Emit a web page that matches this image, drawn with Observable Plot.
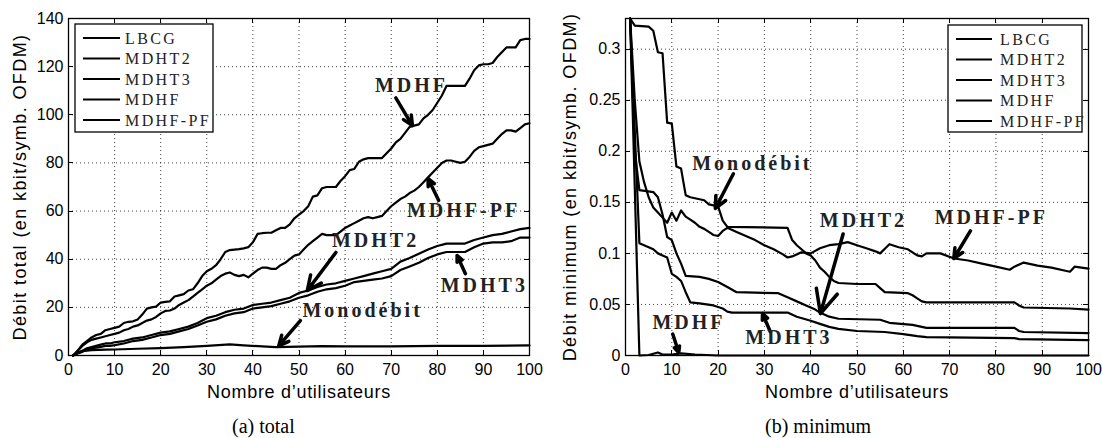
<!DOCTYPE html>
<html><head><meta charset="utf-8">
<script src="https://cdn.jsdelivr.net/npm/d3@7"></script>
<script src="https://cdn.jsdelivr.net/npm/@observablehq/plot@0.6"></script>
<style>
body{margin:0;background:#fff;}
#wrap{position:relative;width:1102px;height:438px;overflow:hidden;background:#fff}
#left,#right{position:absolute;top:0}
#left{left:0} #right{left:551px}
.cap{position:absolute;font-family:"Liberation Serif",serif;font-size:20px;color:#000;top:416px;white-space:nowrap;line-height:20px}
g[aria-label="x-axis label"]{font-size:18px;letter-spacing:0.7px}
g[aria-label="y-axis label"]{font-size:18px;letter-spacing:1.4px}
g[aria-label="text"]{letter-spacing:3px}
</style></head><body>
<div id="wrap"><div id="left"></div><div id="right"></div>
<div class="cap" id="capA" style="left:232px"></div><div class="cap" id="capB" style="left:765px"></div></div>
<script>
// ---------- data ----------
const seriesNames = ["LBCG", "MDHT2", "MDHT3", "MDHF", "MDHF-PF"];
const xTicks = [0,10,20,30,40,50,60,70,80,90,100];
const yTicksTotal = [0,20,40,60,80,100,120,140];
const yTicksMin = [0,0.05,0.1,0.15,0.2,0.25,0.3];
const yLabelsMin = ["0","0.05","0.1","0.15","0.2","0.25","0.3"];
const xLabel = "Nombre d’utilisateurs";
const yLabelTotal = "Débit total (en kbit/symb. OFDM)";
const yLabelMin = "Débit minimum (en kbit/symb. OFDM)";
const captions = ["(a) total", "(b) minimum"];

// (a) total throughput
const totMDHF_x = [1,2,3,4,5,6,7,8,9,10,11,12,13,14,15,16,17,18,19,20,21,22,23,24,25,26,27,28,29,30,31,32,33,34,35,36,37,38,39,40,41,42,43,44,45,46,47,48,49,50,51,52,53,54,55,56,57,58,59,60,61,62,63,64,65,66,67,68,69,70,71,72,73,74,75,76,77,78,79,80,81,82,83,84,85,86,87,88,89,90,91,92,93,94,95,96,97,98,99,100];
const totMDHF_y = [0,2,4.5,6,7.5,8.5,9,10.5,11,11.5,12,13.5,14,14.2,15,17,19.5,20,20.3,22,22.3,22.5,24.5,25,25.5,27,27.5,30,33,35,36,37.5,40,43,43.8,44,44.2,44.5,45,47,50.5,50.8,51,51,52,53,53,54.5,57,58.5,60,62,66,66.5,69.5,70,70,70,72.5,74.5,77,77.5,80.5,81.5,82,82,82,82,84,86,88.5,90,92.5,95,95.5,96,98.5,100,102,105,108,112,112,112,112,112,115,118.5,120.5,121,121,121.5,124,126,128,128,128,131,131.5,131.5];
const totPF_x = totMDHF_x;
const totPF_y = [0,2,4,5.5,6.5,7,7.5,8,8.5,9,9.5,10.5,11,12,12.5,13.5,14.5,15,16,17.5,18.5,18.7,19.5,21,22,23,24.5,26,27.5,29,30,31.5,33,34,34.5,33.5,33,33.5,32.5,34,35.5,36.5,36.5,36,36,37.5,38.5,40,41.5,42,44,46,47.5,49,50.5,50,50,50,51.5,53,54,55,56,57,57.5,57,57.5,58,60,62,63.5,65,66,67.5,68.5,70,72,74,76,78,80,81,81,80.5,80,80.5,82.5,85,86.5,87,87.5,88,90,92,93.5,93.5,93,94.5,96,96.5];
const totMDHT2_x = [1,2,3,4,5,6,7,8,9,10,12,14,16,18,20,22,24,26,28,30,32,34,36,38,40,42,44,46,48,50,52,54,56,58,60,62,64,66,68,70,72,74,76,78,80,82,84,86,88,90,92,94,96,98,100];
const totMDHT2_y = [0,1,2,3,3.5,4,4.5,5,5,5.5,6,7,7.5,8.5,9.5,10,11,12,13.5,15.5,16.5,18,19,19.5,21,21.5,22,23,24,26,27,28.5,29.5,30,31,32,33,34,35,36,39,40.5,42.3,44,45.5,46.5,46.5,46.5,48,49,50,50.5,51.5,52.5,53];
const totMDHT3_x = totMDHT2_x;
const totMDHT3_y = [0,0.8,1.5,2.5,3,3.3,3.6,4,4,4.3,5,6,6.5,7.5,8.5,9,10,11,12.5,14,15,16.5,17.5,18,19.5,20,20.5,21.5,22.5,24,25,26.5,27.5,28,29,30.5,31,31.5,32,33,35.5,37,38.5,40.5,42,43,43,43,45,46.5,47,47,47.5,49,49];
const totLBCG_x = [1,2,3,5,8,10,15,20,25,30,35,38,42,45,50,55,60,70,80,90,100];
const totLBCG_y = [0,1.2,1.8,2.2,2.4,2.5,2.8,3.1,3.5,4.0,4.6,4.2,3.8,3.5,3.7,3.9,3.8,3.8,4.0,4.0,4.2];

// (b) minimum throughput
const minLBCG_x = [1,2,5,6,7,8,9,10,11,12,13,14,16,17,18,19,20,21,22,35,36,37,38,39,40,41,42,43,44,45,46,50,54,55,56,61,62,63,64,65,84,85,86,96,100];
const minLBCG_y = [0.33,0.323,0.322,0.318,0.297,0.296,0.228,0.227,0.185,0.183,0.157,0.155,0.153,0.152,0.148,0.147,0.146,0.132,0.126,0.125,0.113,0.108,0.104,0.1,0.098,0.093,0.086,0.082,0.077,0.073,0.071,0.07,0.07,0.066,0.062,0.061,0.059,0.056,0.053,0.052,0.052,0.049,0.047,0.046,0.045];
const minPF_x = [1,2,3,4,5,6,7,8,9,10,11,12,13,14,15,16,17,18,19,20,21,22,24,26,28,30,32,34,35,36,38,40,42,44,46,48,50,52,54,55,57,59,61,63,64,65,68,71,74,77,80,83,84,86,89,92,95,96,97,100];
const minPF_y = [0.33,0.25,0.19,0.17,0.155,0.145,0.14,0.135,0.13,0.14,0.132,0.142,0.136,0.133,0.13,0.126,0.124,0.121,0.118,0.117,0.122,0.125,0.121,0.117,0.113,0.108,0.104,0.099,0.096,0.097,0.101,0.1,0.105,0.108,0.109,0.111,0.108,0.105,0.102,0.1,0.109,0.106,0.104,0.098,0.097,0.1,0.1,0.095,0.093,0.09,0.087,0.084,0.087,0.091,0.088,0.086,0.083,0.082,0.087,0.085];
const minMDHT2_x = [1,2,3,6,7,8,9,10,11,12,13,16,18,20,22,24,33,35,37,39,41,42,44,46,55,57,62,64,65,84,85,86,100];
const minMDHT2_y = [0.33,0.2,0.162,0.16,0.155,0.138,0.116,0.113,0.1,0.09,0.078,0.077,0.075,0.072,0.067,0.062,0.061,0.057,0.053,0.049,0.045,0.042,0.038,0.036,0.035,0.032,0.03,0.028,0.027,0.027,0.024,0.023,0.022];
const minMDHT3_x = [1,2,3,5,6,7,8,9,10,11,12,13,14,16,19,21,22,23,35,37,40,42,44,46,50,56,60,63,65,84,85,100];
const minMDHT3_y = [0.33,0.22,0.11,0.106,0.104,0.1,0.098,0.096,0.08,0.077,0.073,0.062,0.052,0.051,0.049,0.046,0.043,0.042,0.042,0.038,0.034,0.031,0.028,0.026,0.024,0.023,0.021,0.019,0.018,0.017,0.016,0.015];
const minMDHF_x = [1,2,3,5,7,8,10,12,15,20,100];
const minMDHF_y = [0.33,0.165,0,0.0005,0.003,0.001,0.0008,0.002,0.001,0,0];

// annotations (data units)
const annotTotal = [
  {label:"MDHF", x:74.4, y:112}, {label:"MDHF-PF", x:85.7, y:60},
  {label:"MDHT2", x:66.6, y:47.8}, {label:"Monodébit", x:63.8, y:18.7},
  {label:"MDHT3", x:90.2, y:29}];
const arrowsTotal = [
  {x1:71, y1:107, x2:74.6, y2:95.5}, {x1:80.3, y1:64.4, x2:78, y2:73.5},
  {x1:58, y1:42.8, x2:51.8, y2:27}, {x1:50.3, y1:14.5, x2:45.6, y2:4},
  {x1:86.1, y1:34, x2:84.3, y2:41.5}];
const annotMin = [
  {label:"Monodébit", x:27.4, y:0.188}, {label:"MDHT2", x:51.4, y:0.132},
  {label:"MDHF-PF", x:79, y:0.135}, {label:"MDHF", x:13.7, y:0.032},
  {label:"MDHT3", x:35.3, y:0.018}];
const arrowsMin = [
  {x1:23.3, y1:0.178, x2:19.4, y2:0.144}, {x1:47, y1:0.119, x2:42.1, y2:0.041},
  {x1:74.5, y1:0.122, x2:70.9, y2:0.095}, {x1:10.2, y1:0.021, x2:11.5, y2:0.003},
  {x1:31.3, y1:0.023, x2:29.6, y2:0.041}];

// ---------- helpers ----------
const rows = (xs, ys, s) => xs.map((x, i) => ({x, y: ys[i], s}));
const totalRows = [
  ...rows(totLBCG_x, totLBCG_y, "LBCG"), ...rows(totMDHT2_x, totMDHT2_y, "MDHT2"),
  ...rows(totMDHT3_x, totMDHT3_y, "MDHT3"), ...rows(totMDHF_x, totMDHF_y, "MDHF"),
  ...rows(totPF_x, totPF_y, "MDHF-PF")];
const minRows = [
  ...rows(minLBCG_x, minLBCG_y, "LBCG"), ...rows(minMDHT2_x, minMDHT2_y, "MDHT2"),
  ...rows(minMDHT3_x, minMDHT3_y, "MDHT3"), ...rows(minMDHF_x, minMDHF_y, "MDHF"),
  ...rows(minPF_x, minPF_y, "MDHF-PF")];

function innerTicks(xt, yt, len) {
  return (index, scales, values, dims) => {
    const sc = scales.x ? scales : (scales.scales || scales);
    const l = dims.marginLeft, t = dims.marginTop;
    const r = dims.width - dims.marginRight, b = dims.height - dims.marginBottom;
    const g = d3.create("svg:g").attr("stroke", "#000").attr("stroke-width", 1);
    for (const v of xt) {
      const p = Math.round(sc.x(v)) + 0.5;
      g.append("line").attr("x1", p).attr("x2", p).attr("y1", b).attr("y2", b - len);
      g.append("line").attr("x1", p).attr("x2", p).attr("y1", t).attr("y2", t + len);
    }
    for (const v of yt) {
      const p = Math.round(sc.y(v)) + 0.5;
      g.append("line").attr("y1", p).attr("y2", p).attr("x1", l).attr("x2", l + len);
      g.append("line").attr("y1", p).attr("y2", p).attr("x1", r).attr("x2", r - len);
    }
    return g.node();
  };
}

function legendMark(names, opt) {
  return (index, scales, values, dims) => {
    const x0 = opt.side === "left" ? dims.marginLeft + opt.off : dims.width - dims.marginRight - opt.off - opt.w;
    const y0 = dims.marginTop + opt.top;
    const g = d3.create("svg:g");
    g.append("rect").attr("x", x0).attr("y", y0).attr("width", opt.w).attr("height", opt.h)
      .attr("fill", "#fff").attr("stroke", "#000").attr("stroke-width", 1.3);
    names.forEach((n, i) => {
      const yy = y0 + 14 + i * 20.5;
      g.append("line").attr("x1", x0 + 8).attr("x2", x0 + opt.lineEnd).attr("y1", yy).attr("y2", yy)
        .attr("stroke", "#000").attr("stroke-width", 2.2);
      g.append("text").attr("x", x0 + opt.textX).attr("y", yy).attr("dy", "0.35em")
        .attr("text-anchor", "start")
        .attr("font-family", "'Liberation Serif', serif").attr("font-size", 16)
        .attr("letter-spacing", 2.4).attr("fill", "#222").text(n);
    });
    return g.node();
  };
}

function chart(opts) {
  return Plot.plot({
    width: 551, height: 400,
    marginLeft: opts.ml, marginRight: opts.mr, marginTop: 18, marginBottom: 45,
    style: {fontFamily: "'Liberation Sans', Arial, sans-serif", fontSize: "16px", color: "#000", background: "#fff", overflow: "visible"},
    x: {domain: [0, 100]},
    y: {domain: opts.ydomain},
    marks: [
      Plot.gridX(xTicks, {stroke: "#000", strokeOpacity: 0.75, strokeDasharray: "1,3"}),
      Plot.gridY(opts.yticks, {stroke: "#000", strokeOpacity: 0.75, strokeDasharray: "1,3"}),
      Plot.axisX({ticks: xTicks, tickSize: 0, tickPadding: 8, label: xLabel, labelAnchor: "center", labelArrow: "none", labelOffset: 42}),
      Plot.axisY({ticks: opts.yticks, tickSize: 0, tickPadding: 5, tickFormat: opts.fmt, label: opts.ylabel, labelAnchor: "center", labelArrow: "none", labelOffset: opts.lo}),
      Plot.line(opts.rows, {x: "x", y: "y", z: "s", stroke: "#000", strokeWidth: 2.2, strokeLinejoin: "round"}),
      Plot.arrow(opts.arrows, {x1: "x1", y1: "y1", x2: "x2", y2: "y2", stroke: "#000", strokeWidth: 3.5, headLength: 11, headAngle: 50}),
      Plot.text(opts.annot, {x: "x", y: "y", text: "label", fontFamily: "'Liberation Serif', serif", fontWeight: "bold", fontSize: 20, fill: "#222"}),
      innerTicks(xTicks, opts.yticks, 5),
      legendMark(seriesNames, opts.legend),
      Plot.frame({stroke: "#000", strokeWidth: 1.3})
    ]
  });
}

document.getElementById("left").append(chart({
  ml: 68, mr: 22, ydomain: [0, 140], yticks: yTicksTotal, fmt: d => String(d),
  ylabel: yLabelTotal, lo: 55, rows: totalRows, arrows: arrowsTotal, annot: annotTotal,
  legend: {side: "left", off: 7, top: 6, w: 138, h: 108, lineEnd: 45, textX: 50}
}));
document.getElementById("right").append(chart({
  ml: 74, mr: 14, ydomain: [0, 0.33], yticks: yTicksMin, fmt: (d, i) => yLabelsMin[i],
  ylabel: yLabelMin, lo: 62, rows: minRows, arrows: arrowsMin, annot: annotMin,
  legend: {side: "right", off: 6, top: 7, w: 134, h: 107, lineEnd: 44, textX: 52}
}));
document.getElementById("capA").textContent = captions[0];
document.getElementById("capB").textContent = captions[1];
</script>
</body></html>
